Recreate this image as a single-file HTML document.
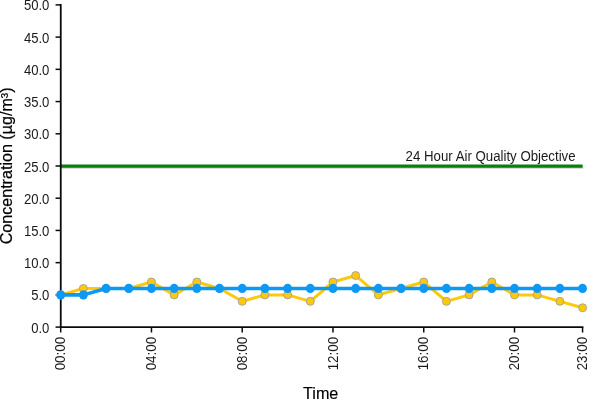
<!DOCTYPE html>
<html><head><meta charset="utf-8"><title>Chart</title>
<style>
html,body{margin:0;padding:0;background:#fff;}
body{width:600px;height:400px;overflow:hidden;}
svg{display:block;font-family:"Liberation Sans",Arial,sans-serif;fill:#1a1a1a;}
</style></head><body>
<svg width="600" height="400" viewBox="0 0 600 400">
<rect width="600" height="400" fill="#ffffff"/>
<line x1="61.7" y1="167.15" x2="583.37" y2="167.15" stroke="#000" stroke-opacity="0.18" stroke-width="3"/>
<line x1="60.7" y1="166.15" x2="582.57" y2="166.15" stroke="#0a7f0a" stroke-width="3.1"/>
<text transform="translate(575.6 160.8) scale(1 1.05)" text-anchor="end" font-size="13.25">24 Hour Air Quality Objective</text>
<g stroke="#0a0a0a" fill="none">
<path stroke-width="1.8" d="M60.75 4.1V327.1"/><path stroke-width="1.7" d="M59.85 327.1H583.37"/>
<g stroke-width="1.5"><path d="M55.55 327.1H60.75"/><path d="M55.55 294.88H60.75"/><path d="M55.55 262.66H60.75"/><path d="M55.55 230.44H60.75"/><path d="M55.55 198.22H60.75"/><path d="M55.55 166.0H60.75"/><path d="M55.55 133.78H60.75"/><path d="M55.55 101.56H60.75"/><path d="M55.55 69.34H60.75"/><path d="M55.55 37.12H60.75"/><path d="M55.55 4.9H60.75"/><path d="M60.7 327.1V332.5"/><path d="M151.46 327.1V332.5"/><path d="M242.22 327.1V332.5"/><path d="M332.98 327.1V332.5"/><path d="M423.74 327.1V332.5"/><path d="M514.5 327.1V332.5"/><path d="M582.57 327.1V332.5"/></g></g>
<g font-size="13.45" text-anchor="end">
<text transform="translate(49.4 332.6) scale(0.975 1.14)">0.0</text><text transform="translate(49.4 300.38) scale(0.975 1.14)">5.0</text><text transform="translate(49.4 268.16) scale(0.975 1.14)">10.0</text><text transform="translate(49.4 235.94) scale(0.975 1.14)">15.0</text><text transform="translate(49.4 203.72) scale(0.975 1.14)">20.0</text><text transform="translate(49.4 171.5) scale(0.975 1.14)">25.0</text><text transform="translate(49.4 139.28) scale(0.975 1.14)">30.0</text><text transform="translate(49.4 107.06) scale(0.975 1.14)">35.0</text><text transform="translate(49.4 74.84) scale(0.975 1.14)">40.0</text><text transform="translate(49.4 42.62) scale(0.975 1.14)">45.0</text><text transform="translate(49.4 10.4) scale(0.975 1.14)">50.0</text></g>
<g font-size="13.45" text-anchor="end">
<text transform="translate(65.3 336.9) rotate(-90) scale(0.995 1.12)">00:00</text><text transform="translate(156.06 336.9) rotate(-90) scale(0.995 1.12)">04:00</text><text transform="translate(246.82 336.9) rotate(-90) scale(0.995 1.12)">08:00</text><text transform="translate(337.58 336.9) rotate(-90) scale(0.995 1.12)">12:00</text><text transform="translate(428.34 336.9) rotate(-90) scale(0.995 1.12)">16:00</text><text transform="translate(519.1 336.9) rotate(-90) scale(0.995 1.12)">20:00</text><text transform="translate(587.17 336.9) rotate(-90) scale(0.995 1.12)">23:00</text></g>
<text transform="translate(12.2 165.9) rotate(-90)" text-anchor="middle" font-size="16.1" stroke="#000" stroke-width="0.2" fill="#000">Concentration (µg/m³)</text>
<text x="320.7" y="399" text-anchor="middle" font-size="16.2" stroke="#000" stroke-width="0.15" fill="#000">Time</text>
<polyline points="60.7,294.88 83.39,288.44 106.08,288.44 128.77,288.44 151.46,281.99 174.15,294.88 196.84,281.99 219.53,288.44 242.22,301.32 264.91,294.88 287.6,294.88 310.29,301.32 332.98,281.99 355.67,275.55 378.36,294.88 401.05,288.44 423.74,281.99 446.43,301.32 469.12,294.88 491.81,281.99 514.5,294.88 537.19,294.88 559.88,301.32 582.57,307.77" fill="none" stroke="#fdc90a" stroke-width="3.0" stroke-linejoin="round"/>
<g fill="#fdc90a" stroke="#aaa693" stroke-width="1"><circle cx="60.7" cy="294.88" r="4.0"/><circle cx="83.39" cy="288.44" r="4.0"/><circle cx="106.08" cy="288.44" r="4.0"/><circle cx="128.77" cy="288.44" r="4.0"/><circle cx="151.46" cy="281.99" r="4.0"/><circle cx="174.15" cy="294.88" r="4.0"/><circle cx="196.84" cy="281.99" r="4.0"/><circle cx="219.53" cy="288.44" r="4.0"/><circle cx="242.22" cy="301.32" r="4.0"/><circle cx="264.91" cy="294.88" r="4.0"/><circle cx="287.6" cy="294.88" r="4.0"/><circle cx="310.29" cy="301.32" r="4.0"/><circle cx="332.98" cy="281.99" r="4.0"/><circle cx="355.67" cy="275.55" r="4.0"/><circle cx="378.36" cy="294.88" r="4.0"/><circle cx="401.05" cy="288.44" r="4.0"/><circle cx="423.74" cy="281.99" r="4.0"/><circle cx="446.43" cy="301.32" r="4.0"/><circle cx="469.12" cy="294.88" r="4.0"/><circle cx="491.81" cy="281.99" r="4.0"/><circle cx="514.5" cy="294.88" r="4.0"/><circle cx="537.19" cy="294.88" r="4.0"/><circle cx="559.88" cy="301.32" r="4.0"/><circle cx="582.57" cy="307.77" r="4.0"/></g>
<polyline points="60.7,294.88 83.39,294.88 106.08,288.44 128.77,288.44 151.46,288.44 174.15,288.44 196.84,288.44 219.53,288.44 242.22,288.44 264.91,288.44 287.6,288.44 310.29,288.44 332.98,288.44 355.67,288.44 378.36,288.44 401.05,288.44 423.74,288.44 446.43,288.44 469.12,288.44 491.81,288.44 514.5,288.44 537.19,288.44 559.88,288.44 582.57,288.44" fill="none" stroke="#0d98f4" stroke-width="3.6" stroke-linejoin="round"/>
<g fill="#0d98f4"><ellipse cx="60.7" cy="294.88" rx="4.4" ry="4.65"/><ellipse cx="83.39" cy="294.88" rx="4.4" ry="4.65"/><ellipse cx="106.08" cy="288.44" rx="4.4" ry="4.65"/><ellipse cx="128.77" cy="288.44" rx="4.4" ry="4.65"/><ellipse cx="151.46" cy="288.44" rx="4.4" ry="4.65"/><ellipse cx="174.15" cy="288.44" rx="4.4" ry="4.65"/><ellipse cx="196.84" cy="288.44" rx="4.4" ry="4.65"/><ellipse cx="219.53" cy="288.44" rx="4.4" ry="4.65"/><ellipse cx="242.22" cy="288.44" rx="4.4" ry="4.65"/><ellipse cx="264.91" cy="288.44" rx="4.4" ry="4.65"/><ellipse cx="287.6" cy="288.44" rx="4.4" ry="4.65"/><ellipse cx="310.29" cy="288.44" rx="4.4" ry="4.65"/><ellipse cx="332.98" cy="288.44" rx="4.4" ry="4.65"/><ellipse cx="355.67" cy="288.44" rx="4.4" ry="4.65"/><ellipse cx="378.36" cy="288.44" rx="4.4" ry="4.65"/><ellipse cx="401.05" cy="288.44" rx="4.4" ry="4.65"/><ellipse cx="423.74" cy="288.44" rx="4.4" ry="4.65"/><ellipse cx="446.43" cy="288.44" rx="4.4" ry="4.65"/><ellipse cx="469.12" cy="288.44" rx="4.4" ry="4.65"/><ellipse cx="491.81" cy="288.44" rx="4.4" ry="4.65"/><ellipse cx="514.5" cy="288.44" rx="4.4" ry="4.65"/><ellipse cx="537.19" cy="288.44" rx="4.4" ry="4.65"/><ellipse cx="559.88" cy="288.44" rx="4.4" ry="4.65"/><ellipse cx="582.57" cy="288.44" rx="4.4" ry="4.65"/></g>
</svg></body></html>
